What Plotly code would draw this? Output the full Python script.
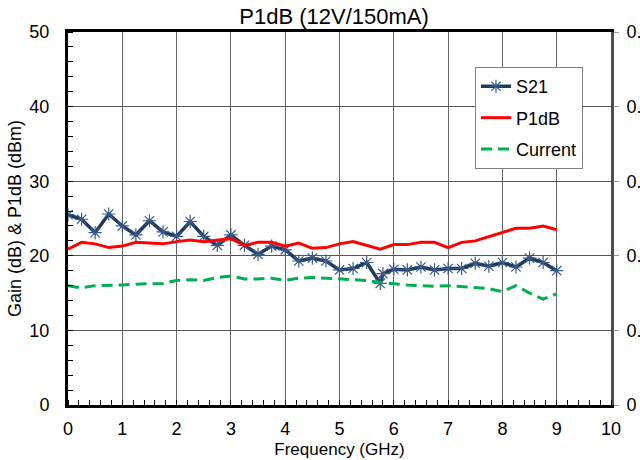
import plotly.graph_objects as go

# ---- data ----
s21_freq = [0, 0.25, 0.5, 0.75, 1.0, 1.25, 1.5, 1.75, 2.0, 2.25, 2.5, 2.75, 3.0, 3.25,
            3.5, 3.75, 4.0, 4.25, 4.5, 4.75, 5.0, 5.25, 5.5, 5.75, 5.8, 6.0, 6.25, 6.5,
            6.75, 7.0, 7.25, 7.5, 7.75, 8.0, 8.25, 8.5, 8.75, 9.0]
s21_gain = [25.5, 24.9, 23.1, 25.6, 24.0, 22.8, 24.7, 23.2, 22.6, 24.6, 22.6, 21.4, 22.8, 21.4,
            20.2, 21.3, 20.8, 19.3, 19.7, 19.3, 18.1, 18.3, 19.1, 16.3, 17.6, 18.2, 18.1, 18.5,
            18.1, 18.3, 18.3, 19.0, 18.6, 19.1, 18.5, 19.7, 19.1, 18.0]

freq = [0, 0.25, 0.5, 0.75, 1.0, 1.25, 1.5, 1.75, 2.0, 2.25, 2.5, 2.75, 3.0, 3.25,
        3.5, 3.75, 4.0, 4.25, 4.5, 4.75, 5.0, 5.25, 5.5, 5.75, 6.0, 6.25, 6.5,
        6.75, 7.0, 7.25, 7.5, 7.75, 8.0, 8.25, 8.5, 8.75, 9.0]
p1db = [20.9, 21.8, 21.6, 21.1, 21.3, 21.8, 21.7, 21.6, 21.9, 22.1, 21.9, 22.1, 22.3, 21.4,
        21.8, 21.8, 21.3, 21.7, 21.0, 21.1, 21.6, 21.9, 21.4, 20.9, 21.5, 21.5, 21.8,
        21.8, 21.1, 21.8, 22.0, 22.6, 23.1, 23.7, 23.7, 24.0, 23.5]
current = [0.160, 0.157, 0.160, 0.161, 0.161, 0.162, 0.162, 0.163, 0.167, 0.168, 0.167, 0.171, 0.173, 0.169,
           0.169, 0.170, 0.167, 0.170, 0.171, 0.170, 0.170, 0.169, 0.167, 0.164, 0.162, 0.161, 0.160,
           0.159, 0.160, 0.159, 0.157, 0.156, 0.152, 0.160, 0.150, 0.142, 0.149]

x_ticks = [0, 1, 2, 3, 4, 5, 6, 7, 8, 9, 10]
y_ticks = [0, 10, 20, 30, 40, 50]
y2_ticks = [0, 0.1, 0.2, 0.3, 0.4, 0.5]
y2_labels = ["0", "0.1", "0.2", "0.3", "0.4", "0.5"]

FONT = "Liberation Sans, Arial, sans-serif"

fig = go.Figure()
fig.add_trace(go.Scatter(
    x=s21_freq, y=s21_gain, name="S21", mode="lines+markers",
    line=dict(color="#1F3864", width=3.5),
    marker=dict(symbol="asterisk-open", size=11, color="#3A5A85",
                line=dict(color="#3A5A85", width=1.2)),
    legendgroup="a"))
fig.add_trace(go.Scatter(
    x=freq, y=p1db, name="P1dB", mode="lines",
    line=dict(color="#FF0000", width=3), legendgroup="b"))
fig.add_trace(go.Scatter(
    x=freq, y=current, name="Current", mode="lines", yaxis="y2",
    line=dict(color="#00B050", width=3, dash="11px,6px"), legendgroup="c"))

fig.update_layout(
    width=640, height=460,
    margin=dict(l=68, r=29, t=32, b=55, autoexpand=False),
    paper_bgcolor="white", plot_bgcolor="white",
    font=dict(family=FONT, size=18, color="black"),
    title=dict(text="P1dB (12V/150mA)", x=0.522, xanchor="center",
               y=1 - 16 / 460, yanchor="middle", yref="container",
               font=dict(size=22)),
    showlegend=True,
    legend=dict(x=0.7495, y=0.906, xanchor="left", yanchor="top",
                bgcolor="white", bordercolor="#808080", borderwidth=1,
                font=dict(size=18), tracegroupgap=5),
    xaxis=dict(range=[0, 10], tickvals=x_ticks, showgrid=True, gridcolor="#666666",
               gridwidth=1, showline=True, linecolor="black", linewidth=3, mirror=True,
               ticks="", zeroline=False, ticklabelstandoff=5,
               minor=dict(dtick=0.2, ticks="inside", ticklen=5, tickcolor="black",
                          showgrid=False),
               title=dict(text="Frequency (GHz)", standoff=6, font=dict(size=17))),
    yaxis=dict(range=[0, 50], tickvals=y_ticks, showgrid=True, gridcolor="#555555",
               gridwidth=1, showline=True, linecolor="black", linewidth=3,
               ticks="", zeroline=False, ticklabelstandoff=12,
               minor=dict(dtick=2, ticks="inside", ticklen=5, tickcolor="black",
                          showgrid=False),
               title=dict(text="Gain (dB) &amp; P1dB (dBm)", standoff=4,
                          font=dict(size=18))),
    yaxis2=dict(range=[0, 0.5], tickvals=y2_ticks, ticktext=y2_labels,
                overlaying="y", side="right", showgrid=False,
                showline=True, linecolor="#505050", linewidth=3,
                ticks="outside", ticklen=5, tickcolor="#999999",
                zeroline=False, ticklabelstandoff=4),
)

fig.write_html("out.html")
